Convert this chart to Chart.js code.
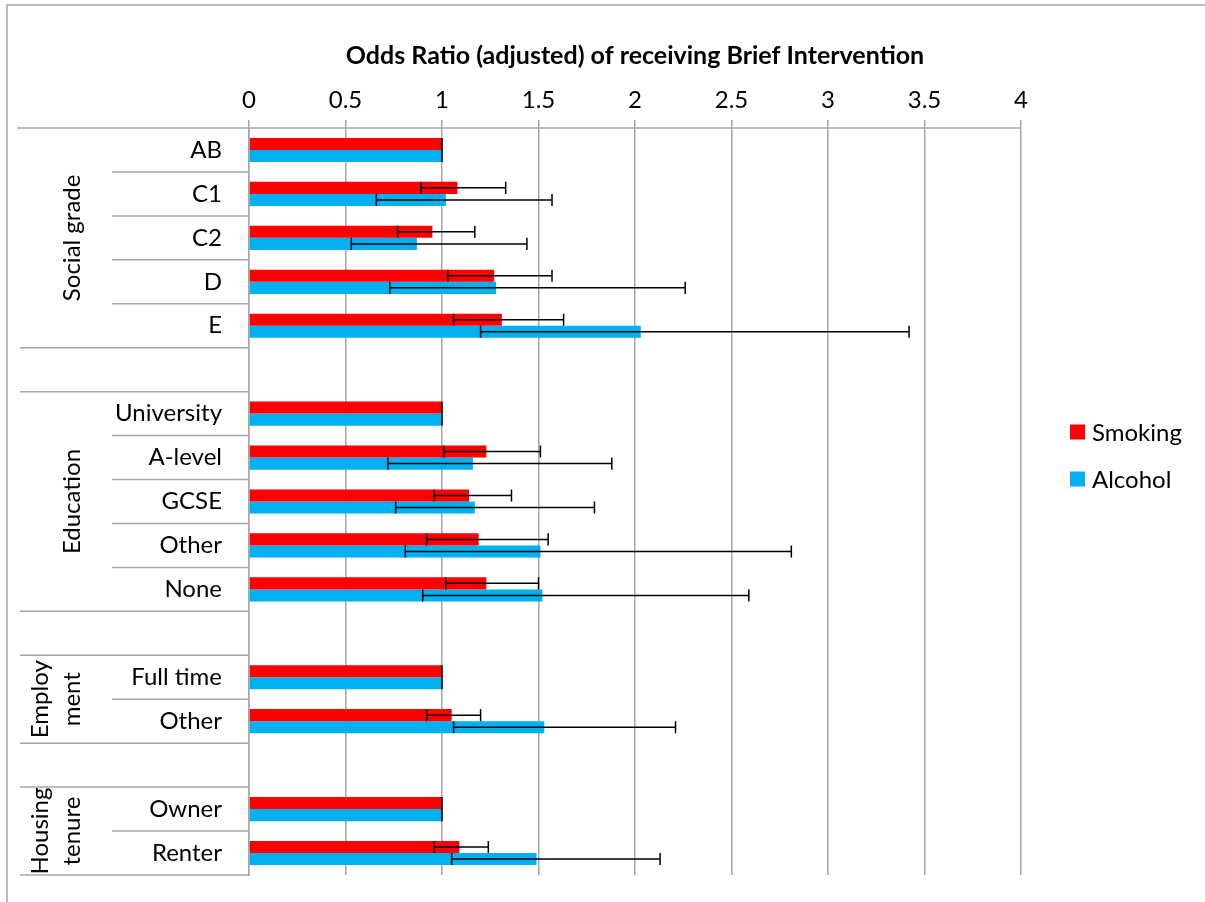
<!DOCTYPE html>
<html>
<head>
<meta charset="utf-8">
<script src="https://cdn.jsdelivr.net/npm/chart.js@4.4.1/dist/chart.umd.min.js"></script>
<style>
  html, body { margin: 0; padding: 0; background: #fff; }
</style>
</head>
<body>
<canvas id="orChart" width="1205" height="902"></canvas>
<script>
// rows top to bottom, '' = spacer row between groups
const rowLabels = ['AB', 'C1', 'C2', 'D', 'E', '', 'University', 'A-level', 'GCSE', 'Other', 'None', '', 'Full time', 'Other', '', 'Owner', 'Renter'];
const groupNames = [['Social grade'], ['Education'], ['Employ', 'ment'], ['Housing', 'tenure']];
const groupRows = [[0, 4], [6, 10], [12, 13], [15, 16]];

const smoking     = [1, 1.08, 0.95, 1.27, 1.31, null, 1, 1.23, 1.14, 1.19, 1.23, null, 1, 1.05, null, 1, 1.09];
const smokingLow  = [1, 0.89, 0.77, 1.03, 1.06, null, 1, 1.01, 0.96, 0.92, 1.02, null, 1, 0.92, null, 1, 0.96];
const smokingHigh = [1, 1.33, 1.17, 1.57, 1.63, null, 1, 1.51, 1.36, 1.55, 1.50, null, 1, 1.20, null, 1, 1.24];

const alcohol     = [1, 1.02, 0.87, 1.28, 2.03, null, 1, 1.16, 1.17, 1.51, 1.52, null, 1, 1.53, null, 1, 1.49];
const alcoholLow  = [1, 0.66, 0.53, 0.73, 1.20, null, 1, 0.72, 0.76, 0.81, 0.90, null, 1, 1.06, null, 1, 1.05];
const alcoholHigh = [1, 1.57, 1.44, 2.26, 3.42, null, 1, 1.88, 1.79, 2.81, 2.59, null, 1, 2.21, null, 1, 2.13];

const xTicks = [0, 0.5, 1, 1.5, 2, 2.5, 3, 3.5, 4];

const FONT = 'Lato, "Open Sans", sans-serif';
const LINE = '#a6a6a6';

const errorBars = {
  id: 'errorBars',
  afterDatasetsDraw(chart) {
    const ctx = chart.ctx;
    const x = chart.scales.x;
    const ranges = [[smokingLow, smokingHigh], [alcoholLow, alcoholHigh]];
    ctx.save();
    ctx.strokeStyle = '#000';
    ctx.lineWidth = 1.5;
    chart.data.datasets.forEach((ds, i) => {
      const meta = chart.getDatasetMeta(i);
      meta.data.forEach((bar, j) => {
        const lo = ranges[i][0][j];
        const hi = ranges[i][1][j];
        if (lo == null || hi == null) return;
        const x1 = x.getPixelForValue(lo);
        const x2 = x.getPixelForValue(hi);
        const h = bar.height / 2;
        ctx.beginPath();
        ctx.moveTo(x1, bar.y);
        ctx.lineTo(x2, bar.y);
        ctx.moveTo(x1, bar.y - h);
        ctx.lineTo(x1, bar.y + h);
        ctx.moveTo(x2, bar.y - h);
        ctx.lineTo(x2, bar.y + h);
        ctx.stroke();
      });
    });
    ctx.restore();
  }
};

const categoryBox = {
  id: 'categoryBox',
  afterDraw(chart) {
    const ctx = chart.ctx;
    const y = chart.scales.y;
    const area = chart.chartArea;
    const step = (area.bottom - area.top) / rowLabels.length;
    const edge = i => area.top + i * step;
    const outerX = 20, innerX = 112;

    ctx.save();
    // outer frame of the chart object
    ctx.strokeStyle = LINE;
    ctx.lineWidth = 1.5;
    ctx.beginPath();
    ctx.moveTo(7, 902);
    ctx.lineTo(7, 5);
    ctx.lineTo(1205, 5);
    ctx.stroke();

    // top axis line across label box and plot
    ctx.beginPath();
    ctx.moveTo(17, area.top);
    ctx.lineTo(area.right, area.top);
    ctx.stroke();

    // row separators
    ctx.beginPath();
    for (let i = 1; i <= rowLabels.length; i++) {
      const inGroup = groupRows.some(g => i > g[0] && i <= g[1]);
      ctx.moveTo(inGroup ? innerX : outerX, edge(i));
      ctx.lineTo(area.left, edge(i));
    }
    ctx.stroke();

    // row labels
    ctx.fillStyle = '#000';
    ctx.font = '24px ' + FONT;
    ctx.textAlign = 'right';
    ctx.textBaseline = 'middle';
    rowLabels.forEach((lab, i) => {
      if (lab) ctx.fillText(lab, 222, y.getPixelForValue(i));
    });

    // group labels, rotated
    ctx.textAlign = 'center';
    groupNames.forEach((lines, g) => {
      const cy = (edge(groupRows[g][0]) + edge(groupRows[g][1] + 1)) / 2;
      const cx = lines.length === 1 ? 72 : 56;
      ctx.save();
      ctx.translate(cx, cy);
      ctx.rotate(-Math.PI / 2);
      lines.forEach((t, k) => {
        ctx.fillText(t, 0, (k - (lines.length - 1) / 2) * 32);
      });
      ctx.restore();
    });

    // legend
    const legend = [['Smoking', '#ff0000', 432], ['Alcohol', '#00b0f0', 479]];
    ctx.textAlign = 'left';
    legend.forEach(([name, col, ly]) => {
      ctx.fillStyle = col;
      ctx.fillRect(1070, ly - 7.5, 15, 15);
      ctx.fillStyle = '#000';
      ctx.fillText(name, 1092, ly + 1);
    });
    ctx.restore();
  }
};

new Chart(document.getElementById('orChart'), {
  type: 'bar',
  data: {
    labels: rowLabels,
    datasets: [{
      label: 'Smoking',
      data: smoking,
      backgroundColor: '#ff0000'
    }, {
      label: 'Alcohol',
      data: alcohol,
      backgroundColor: '#00b0f0'
    }]
  },
  options: {
    indexAxis: 'y',
    responsive: false,
    animation: false,
    devicePixelRatio: 1,
    categoryPercentage: 0.55,
    barPercentage: 1.0,
    layout: { padding: { left: 0, top: 0, right: 184, bottom: 27 } },
    scales: {
      x: {
        position: 'top',
        min: 0,
        max: 4,
        afterBuildTicks: scale => { scale.ticks = xTicks.map(v => ({ value: v })); },
        afterFit: scale => { scale.height = 128; },
        ticks: {
          color: '#000',
          font: { family: FONT, size: 24 },
          padding: 5,
          callback: v => String(v)
        },
        grid: { color: LINE, lineWidth: 1.5, tickLength: 8 },
        border: { display: false },
        title: {
          display: true,
          text: 'Odds Ratio (adjusted) of receiving Brief Intervention',
          color: '#000',
          font: { family: FONT, size: 25, weight: 'bold' },
          padding: { top: 41, bottom: 0 }
        }
      },
      y: {
        afterFit: scale => { scale.width = 249; },
        ticks: { display: false },
        grid: { display: false },
        border: { display: true, color: LINE, width: 1.5 }
      }
    },
    plugins: {
      legend: { display: false },
      tooltip: { enabled: false }
    }
  },
  plugins: [errorBars, categoryBox]
});
</script>
</body>
</html>
